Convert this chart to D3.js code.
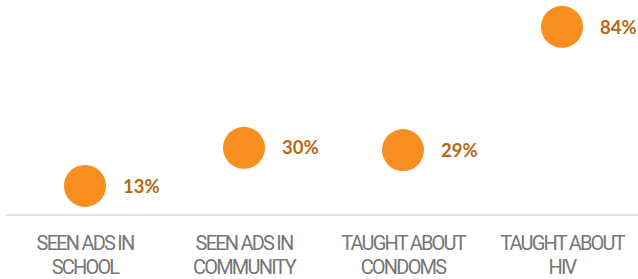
<!DOCTYPE html>
<html>
<head>
<meta charset="utf-8">
<script src="https://cdn.jsdelivr.net/npm/d3@7"></script>
<style>
  html, body { margin: 0; padding: 0; background: #fff; overflow: hidden; }
</style>
</head>
<body>
<div id="container"></div>
<script>
let width = 638;
let height = 279;

// data
let categories = ["SEEN ADS IN SCHOOL", "SEEN ADS IN COMMUNITY", "TAUGHT ABOUT CONDOMS", "TAUGHT ABOUT HIV"];
let labelLines = [["SEEN ADS IN", "SCHOOL"], ["SEEN ADS IN", "COMMUNITY"], ["TAUGHT ABOUT", "CONDOMS"], ["TAUGHT ABOUT", "HIV"]];
let values = [13, 30, 29, 84];

let svg = d3.select("#container")
  .append("svg")
  .attr("width", width)
  .attr("height", height);

let x = d3.scaleBand()
  .domain(categories)
  .range([5.5, 641.5])
  .padding(0);

let y = d3.scaleLinear()
  .domain([0, 100])
  .range([215, -9]);

// baseline
svg.append("line")
  .attr("x1", 6).attr("x2", width)
  .attr("y1", y(0)).attr("y2", y(0))
  .attr("stroke", "#d9d9d9")
  .attr("stroke-width", 1.5);

// category labels
let cat = svg.selectAll(".cat").data(categories)
  .enter().append("text")
  .attr("class", "cat")
  .attr("text-anchor", "middle")
  .style("font-family", "Roboto, sans-serif")
  .style("font-weight", 400)
  .style("font-size", "20px")
  .style("letter-spacing", "-1.8px")
  .style("fill", "#767676");

cat.each(function (d, i) {
  let t = d3.select(this);
  labelLines[i].forEach(function (line, j) {
    t.append("tspan")
      .attr("x", x(d) + x.bandwidth() / 2)
      .attr("y", 250 + j * 24)
      .text(line);
  });
});

// dots
svg.selectAll(".dot").data(values)
  .enter().append("circle")
  .attr("class", "dot")
  .attr("cx", (d, i) => x(categories[i]) + x.bandwidth() / 2)
  .attr("cy", d => y(d))
  .attr("r", 21)
  .style("fill", "#f78e1f");

// value labels
svg.selectAll(".val").data(values)
  .enter().append("text")
  .attr("class", "val")
  .attr("x", (d, i) => x(categories[i]) + x.bandwidth() / 2 + 38)
  .attr("y", d => y(d))
  .attr("dy", "0.36em")
  .style("font-family", "Lato, sans-serif")
  .style("font-weight", 700)
  .style("font-size", "18.5px")
  .style("fill", "#b5690f")
  .text(d => d + "%");
</script>
</body>
</html>
